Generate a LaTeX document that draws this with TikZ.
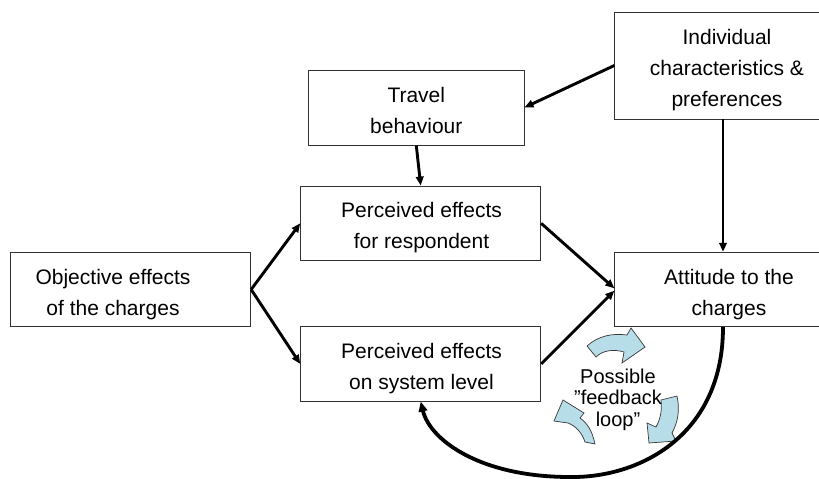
\documentclass[tikz,border=0pt]{standalone}
\usepackage{fontspec}
\setmainfont{Liberation Sans}
\usetikzlibrary{arrows.meta,calc}
\definecolor{fbblue}{RGB}{183,221,232}
\definecolor{fbline}{RGB}{55,55,55}
\begin{document}
\begin{tikzpicture}[x=1pt,y=-1pt,
  box/.style={draw=black!80, line width=0.9pt, inner sep=0pt, minimum height=74.5pt},
  txt/.style={inner sep=0pt, align=center, font=\fontsize{21}{31}\selectfont},
  fbtxt/.style={inner sep=0pt, align=center, font=\fontsize{20}{21.5}\selectfont},
  arr/.style={line width=2.9pt, -{Triangle[length=9pt,width=7.5pt]}},
  curvearr/.style={line width=3.8pt, -{Triangle[length=10pt,width=8.5pt]}},
  fb/.style={fill=fbblue, draw=fbline, line width=0.7pt, line join=miter}]
\useasboundingbox (0,0) rectangle (819,479);
\clip (0,0) rectangle (819,479);
% boxes
\node[box, minimum width=240.2pt] (obj) at (130.6,289.5) {};
\node[box, minimum width=215.4pt, minimum height=75pt] (travel) at (416.3,107.5) {};
\node[box, minimum width=222pt, minimum height=107pt] (indiv) at (725.8,65.5) {};
\node[box, minimum width=240pt] (resp) at (420.7,223.3) {};
\node[box, minimum width=240pt] (sys) at (420.7,363.9) {};
\node[box, minimum width=222pt] (att) at (725.8,289.5) {};
% texts
\node[txt] (objt) at (113,294.3) {Objective effects\\of the charges};
\node[txt] (travelt) at (416.3,110.6) {Travel\\behaviour};
\node[txt] (indivt) at (727,70.2) {Individual\\characteristics \&\\preferences};
\node[txt] (respt) at (421.5,228) {Perceived effects\\for respondent};
\node[txt] (syst) at (421.5,369) {Perceived effects\\on system level};
\node[txt] (attt) at (729,294.3) {Attitude to the\\charges};
% feedback arrows
\path[fb] (587,346) .. controls (598,336) and (612,333) .. (627,335) -- (631,328) -- (645,347) -- (622,363) -- (624,352) .. controls (614,349) and (603,350) .. (596,357) -- cycle;
\path[fb] (661,400) -- (677,396) .. controls (680,410) and (678,422) .. (672,433) -- (676,441) -- (649,443) -- (647,423) -- (656,427) .. controls (661,418) and (662,409) .. (661,400) -- cycle;
\path[fb] (563,400) -- (584,413) -- (580,418) .. controls (587,423) and (592,430) .. (595,444) -- (585,442) .. controls (582,433) and (576,426) .. (568,423) -- (554,421) -- cycle;
\node[fbtxt] (fbt) at (618,399.7) {Possible\\”feedback\\loop”};
% connectors
\draw[arr] (indiv.west) -- (travel.east);
\draw[arr] (travel.south) -- (resp.north);
\draw[arr] ([xshift=-2.8pt]indiv.south) -- ([xshift=-2.8pt]att.north);
\draw[arr] (obj.east) -- (resp.west);
\draw[arr] (obj.east) -- (sys.west);
\draw[arr] (resp.east) -- ([yshift=1.2pt]att.west);
\draw[arr] (sys.east) -- ([yshift=-1.2pt]att.west);
\draw[curvearr] ([xshift=-2.8pt]att.south) .. controls (723,435) and (640,478) .. (570,477) .. controls (480,477) and (430,440) .. (sys.south);
\end{tikzpicture}
\end{document}
